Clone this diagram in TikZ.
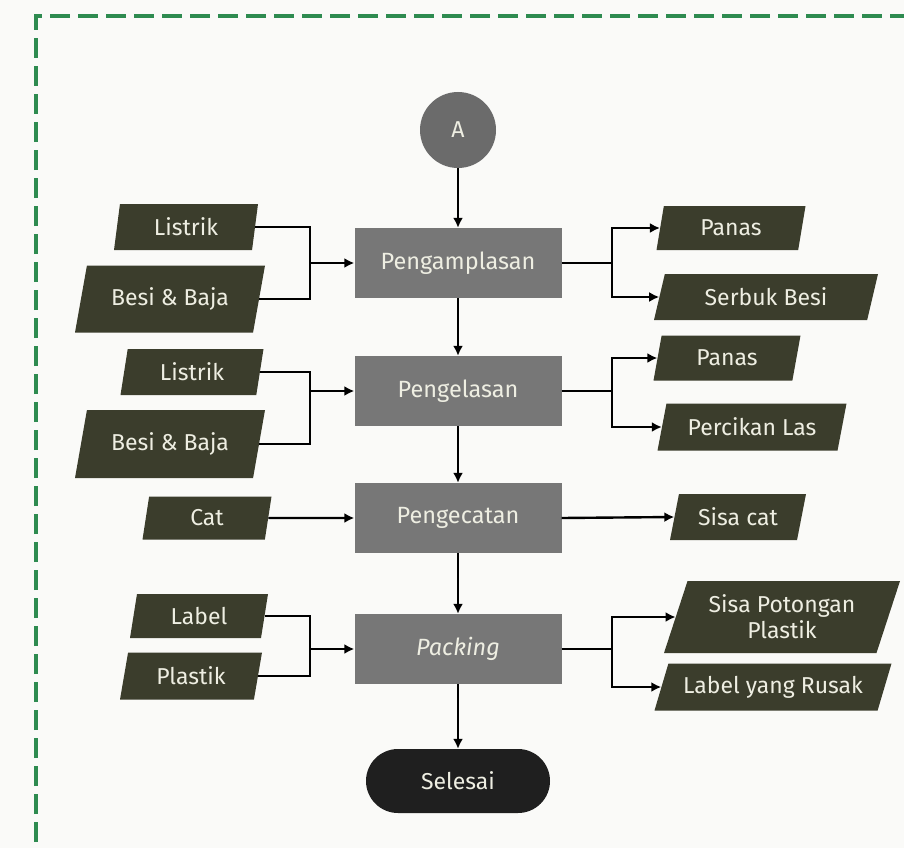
\documentclass[tikz,border=0pt]{standalone}
\usepackage{fontspec}
\setmainfont{Fira Sans}
\usetikzlibrary{shapes.geometric,arrows.meta}
\definecolor{latar}{HTML}{FAFAF8}
\definecolor{hijaubatas}{HTML}{2E8B50}
\definecolor{abuproses}{HTML}{777777}
\definecolor{abulingkar}{HTML}{6B6B6B}
\definecolor{hitamakhir}{HTML}{1F1F1F}
\definecolor{zaitun}{HTML}{3B3D2C}
\definecolor{krem}{HTML}{EEEEE2}
\tikzset{
  proses/.style={rectangle, fill=abuproses, text=krem, minimum width=207, minimum height=70,
    font=\fontsize{23.5}{27}\selectfont},
  data/.style={trapezium, trapezium left angle=#1, trapezium right angle=\the\numexpr180-#1\relax,
    trapezium stretches body, fill=zaitun, text=krem, align=center, inner sep=2,
    font=\fontsize{23}{26}\selectfont},
  data/.default=70,
  garis/.style={line width=2.4, draw=black},
  panah/.style={garis, -{Latex[length=10,width=10]}},
  batas/.style={draw=hijaubatas, line width=4, dash pattern=on 20 off 8}
}
\begin{document}
\begin{tikzpicture}[x=1pt, y=-1pt]
    \useasboundingbox[fill=latar] (0,0) rectangle (904,848);
    \draw[batas] (36,870) -- (36,16) -- (930,16);

    % Alur utama
    \node[circle, fill=abulingkar, text=krem, minimum size=76, font=\fontsize{23}{27}\selectfont] (a) at (458,130) {A};
    \node[proses] (p1) at (458,263) {Pengamplasan};
    \node[proses] (p2) at (458,391) {Pengelasan};
    \node[proses] (p3) at (458,518) {Pengecatan};
    \node[proses] (p4) at (458,649) {\itshape Packing};
    \node[rectangle, rounded corners=32, fill=hitamakhir, text=krem, minimum width=184, minimum height=64,
      font=\fontsize{23}{27}\selectfont] (selesai) at (458,781) {Selesai};

    % Masukan
    \foreach \nm/\tx/\xx/\yy/\ww/\hh/\aa in {
        lis1/Listrik/186/227/144/46/75,
        bes1/Besi \& Baja/170/299/190/67/66,
        lis2/Listrik/192/372/143/46/72,
        bes2/Besi \& Baja/170/444/190/68/66,
        cat/Cat/207/518/129/43/72,
        lab/Label/199/616/138/44/72,
        pla/Plastik/191/676/142/47/70
        } {
        \node[data=\aa, minimum width=\ww, minimum height=\hh] (\nm) at (\xx,\yy) {\tx};
    }

    % Keluaran
    \foreach \nm/\tx/\xx/\yy/\ww/\hh/\aa in {
        pan1/Panas/731/228/149/44/70,
        ser/Serbuk Besi/766/297/224/46/64,
        pan2/Panas/727/358/147/45/68,
        per/Percikan Las/752/427/189/47/68,
        sis/Sisa cat/738/517/136/46/68,
        pot/{Sisa Potongan\\Plastik}/782/617/236/72/64,
        rus/Label yang Rusak/773/687/237/47/62
        } {
        \node[data=\aa, minimum width=\ww, minimum height=\hh] (\nm) at (\xx,\yy) {\tx};
    }

    % Titik cabang
    \coordinate (jl1) at (310,263);
    \coordinate (jl2) at (310,391);
    \coordinate (jl4) at (310,649);
    \coordinate (jr1) at (612,263);
    \coordinate (jr2) at (612,391);
    \coordinate (jr4) at (612,649);

    % Panah vertikal
    \draw[panah] (a) -- (p1);
    \draw[panah] (p1) -- (p2);
    \draw[panah] (p2) -- (p3);
    \draw[panah] (p3) -- (p4);
    \draw[panah] (p4) -- (selesai);

    % Pengamplasan
    \draw[garis] (lis1.east) -| (jl1);
    \draw[garis] (bes1.east) -| (jl1);
    \draw[panah] (jl1) -- (p1.west);
    \draw[garis] (p1.east) -- (jr1);
    \draw[panah] (jr1) |- (pan1.west);
    \draw[panah] (jr1) |- (ser.west);

    % Pengelasan
    \draw[garis] (lis2.east) -| (jl2);
    \draw[garis] (bes2.east) -| (jl2);
    \draw[panah] (jl2) -- (p2.west);
    \draw[garis] (p2.east) -- (jr2);
    \draw[panah] (jr2) |- (pan2.west);
    \draw[panah] (jr2) |- (per.west);

    % Pengecatan
    \draw[panah] (cat.east) -- (p3.west);
    \draw[panah] (p3.east) -- (sis.west);

    % Packing
    \draw[garis] (lab.east) -| (jl4);
    \draw[garis] (pla.east) -| (jl4);
    \draw[panah] (jl4) -- (p4.west);
    \draw[garis] (p4.east) -- (jr4);
    \draw[panah] (jr4) |- (pot.west);
    \draw[panah] (jr4) |- (rus.west);
\end{tikzpicture}
\end{document}
